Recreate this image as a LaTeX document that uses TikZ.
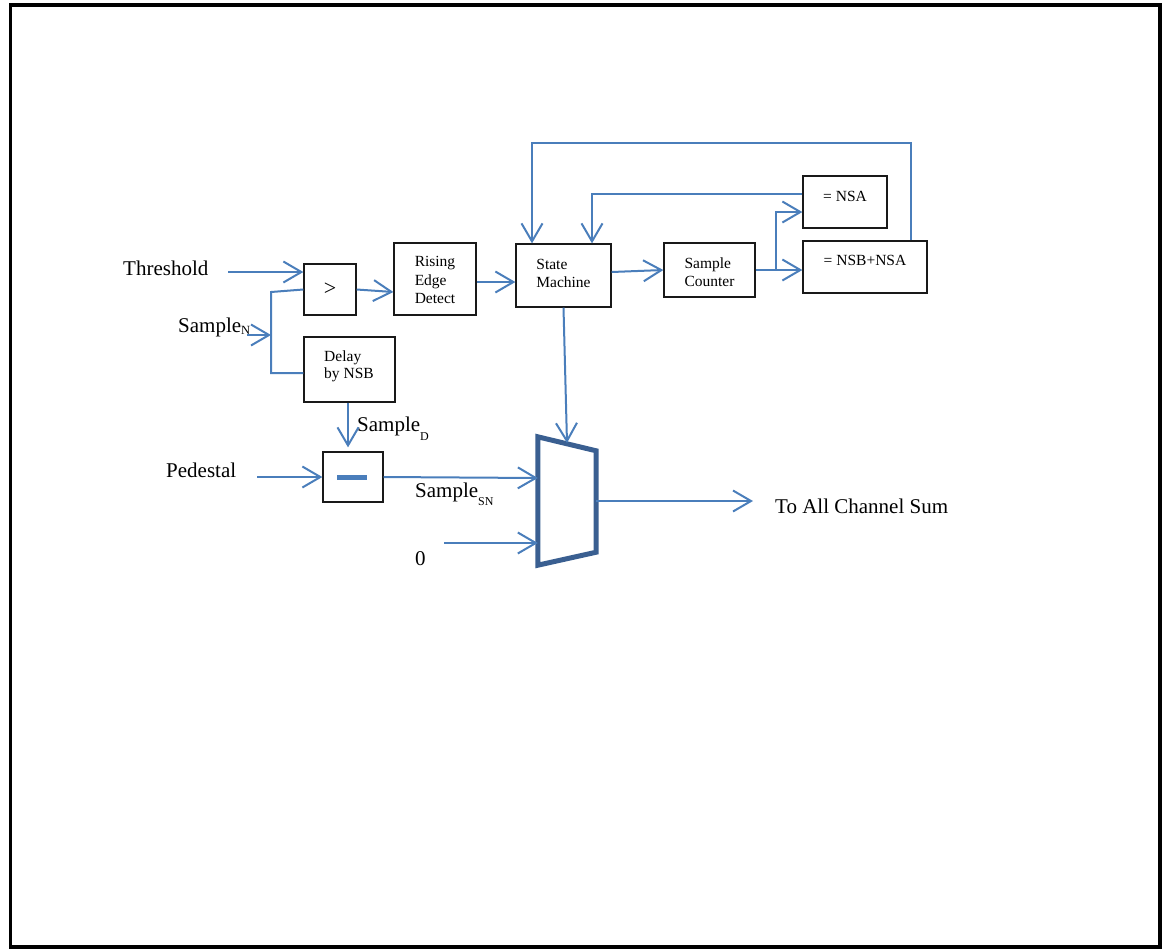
\documentclass[tikz,border=0pt]{standalone}
\usepackage{fontspec}
\setmainfont{Liberation Serif}
\usetikzlibrary{arrows.meta,calc}

\definecolor{wireblue}{RGB}{74,126,187}
\definecolor{muxblue}{RGB}{58,95,145}
\definecolor{boxline}{RGB}{25,25,25}

\newcommand\lblfont{\fontsize{21}{25}\selectfont}
\newcommand\blockfont{\fontsize{15.5}{18}\selectfont}
\newcommand\subtext[2]{\raisebox{-#1pt}{\fontsize{12}{13}\selectfont #2}}

\begin{document}
\begin{tikzpicture}[x=1pt,y=-1pt,
  wire/.style={draw=wireblue, line width=2pt},
  arr/.style={wire, -{Straight Barb[length=18pt,width=21pt]}},
  block/.style={draw=boxline, line width=1.3pt, inner sep=0pt},
  btext/.style={inner sep=0pt, font=\blockfont, align=left},
  lbl/.style={inner sep=0pt, font=\lblfont, anchor=base west}
]
\useasboundingbox (0,0) rectangle (1165,951);

% outer frame
\draw[line width=3.8pt] (10.5,5) rectangle (1160,947);

% ---- blocks ----
\node[block, minimum width=52pt, minimum height=51pt] (gt) at (330,289.5) {};
\node[inner sep=0pt, font=\fontsize{22}{22}\selectfont] (gtt) at (330,289) {>};

\node[block, minimum width=82pt, minimum height=72pt] (red) at (435,279) {};
\node[btext] (redt) at (435,280) {Rising\\[0.5pt]Edge\\[0.5pt]Detect};

\node[block, minimum width=91pt, minimum height=65pt] (dly) at (349.5,369.5) {};
\node[btext, font=\fontsize{15.5}{16.5}\selectfont] (dlyt) at (349,366.5) {Delay\\by NSB};

\node[block, minimum width=95pt, minimum height=63pt] (sm) at (563.5,275.5) {};
\node[btext] (smt) at (563.5,273) {State\\Machine};

\node[block, minimum width=91pt, minimum height=54pt] (cnt) at (709.5,270) {};
\node[btext] (cntt) at (709.5,272) {Sample\\Counter};

\node[block, minimum width=84pt, minimum height=52pt] (nsa) at (845,202) {};
\node[btext] (nsat) at (845,196) {= NSA};

\node[block, minimum width=124pt, minimum height=52pt] (nsb) at (865,267) {};
\node[btext] (nsbt) at (865,260) {= NSB+NSA};

\node[block, minimum width=60pt, minimum height=50pt] (mns) at (353,477) {};
\draw[draw=wireblue, line width=5pt] (337,477) -- (367,477);

% multiplexer
\node[inner sep=0pt, minimum width=58pt, minimum height=128pt] (mux) at (567,501) {};
\draw[draw=muxblue, line width=5pt, line join=miter]
  (mux.north west) -- ([yshift=-14pt]mux.north east)
  -- ([yshift=13pt]mux.south east) -- (mux.south west) -- cycle;

% ---- labels ----
\node[lbl] (thr) at (123,275) {Threshold};
\node[lbl] (snl) at (178,332) {Sample\raisebox{-2pt}{\fontsize{12.5}{13}\selectfont N}};
\node[lbl] (sdl) at (357,431) {Sample\subtext{9}{D}};
\node[lbl] (ped) at (166,477) {Pedestal};
\node[lbl] (ssn) at (415,497) {Sample\subtext{8}{SN}};
\node[lbl] (zero) at (415,565) {0};
\node[lbl] (outl) at (775,513) {To All Channel Sum};

% ---- connector ends and bends ----
\coordinate (thr-tail) at (228,272);
\coordinate (sn-tail) at (247,335);
\coordinate (split) at (271,335);
\coordinate (jt) at (271,292);
\coordinate (jb) at (271,373);
\coordinate (ped-tail) at (257,477);
\coordinate (zero-tail) at (444,543);
\coordinate (mux-top) at (567,443);
\coordinate (out-tip) at (753,501);
\coordinate (br) at (776,270);
\coordinate (bru) at (776,212);
\coordinate (nsa-l) at (592,194);
\coordinate (fb-r) at (911,143);
\coordinate (fb-l) at (532,143);

% ---- connectors ----
\draw[arr] (thr-tail) -- (thr-tail -| gt.west);
\draw[arr] (sn-tail) -- (split);
\draw[wire] (gt.west) -- (jt) -- (jb) -- (jb -| dly.west);
\draw[arr] (gt.east) -- ([yshift=-13pt]red.west);
\draw[arr] ([yshift=-3pt]red.east) -- ([yshift=-3pt]red.east -| sm.west);
\draw[arr] ([yshift=3.5pt]sm.east) -- (cnt.west);
\draw[wire] (cnt.east) -- (br);
\draw[arr] (br) -- (br -| nsb.west);
\draw[arr] (br) -- (bru) -- (bru -| nsa.west);
\draw[arr] (nsa.west |- nsa-l) -- (nsa-l) -- (nsa-l |- sm.north);
\draw[arr] (nsb.north -| fb-r) -- (fb-r) -- (fb-l) -- (fb-l |- sm.north);
\draw[arr] (dly.south -| 348,0) -- ([yshift=4pt]mns.north -| 348,0);
\draw[arr] (ped-tail) -- (mns.west);
\draw[arr] (mns.east) -- ([yshift=-1pt]mns.east -| mux.west);
\draw[arr] (zero-tail) -- (zero-tail -| mux.west);
\draw[arr] (sm.south) -- (mux-top);
\draw[arr] (mux.east) -- (out-tip);
\end{tikzpicture}
\end{document}
